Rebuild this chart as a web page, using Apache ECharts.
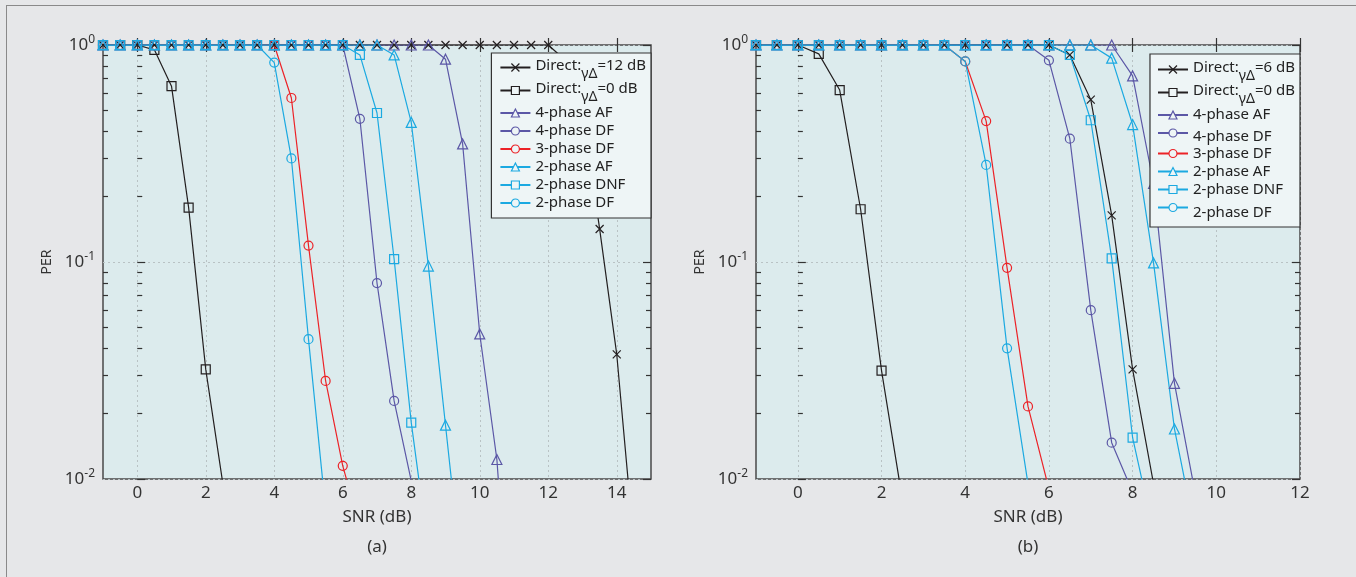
<!DOCTYPE html>
<html><head><meta charset="utf-8">
<script src="https://cdn.jsdelivr.net/npm/echarts@6/dist/echarts.min.js"></script>
<style>
html,body{margin:0;padding:0;background:#e6e7e9;width:1356px;height:577px;overflow:hidden;}
#frame{position:absolute;left:6px;top:5px;width:1360px;height:580px;border-left:1px solid #8a8a8a;border-top:1px solid #8a8a8a;}
#chart{position:absolute;left:0;top:0;width:1356px;height:577px;}
</style></head><body>
<div id="frame"></div>
<div id="chart"></div>
<script>
// ---------- data ----------
const snrA = [-1,-0.5,0,0.5,1,1.5,2,2.5,3,3.5,4,4.5,5,5.5,6,6.5,7,7.5,8,8.5,9,9.5,10,10.5,11,11.5,12,12.5,13,13.5,14,14.5];
const snrB = [-1,-0.5,0,0.5,1,1.5,2,2.5,3,3.5,4,4.5,5,5.5,6,6.5,7,7.5,8,8.5,9,9.5];
const xTicksA = [0,2,4,6,8,10,12,14];
const xTicksB = [0,2,4,6,8,10,12];
const yMinorVals = [0.02,0.03,0.04,0.05,0.06,0.07,0.08,0.09,0.2,0.3,0.4,0.5,0.6,0.7,0.8,0.9];
const yMajorVals = [0.01,0.1,1];

const namesA = ['Direct:γΔ=12 dB','Direct:γΔ=0 dB','4-phase AF','4-phase DF','3-phase DF','2-phase AF','2-phase DNF','2-phase DF'];
const namesB = ['Direct:γΔ=6 dB','Direct:γΔ=0 dB','4-phase AF','4-phase DF','3-phase DF','2-phase AF','2-phase DNF','2-phase DF'];

// (a)
const aDirect12 = [1,1,1,1,1,1,1,1,1,1,1,1,1,1,1,1,1,1,1,1,1,1,1,1,1,1,1,0.85,0.5,0.142,0.0375,0.005];
const aDirect0  = [1,1,1,0.95,0.646,0.178,0.032,0.0095];
const aAF4      = [1,1,1,1,1,1,1,1,1,1,1,1,1,1,1,1,1,1,1,1,0.86,0.35,0.0466,0.0123,0.001];
const aDF4      = [1,1,1,1,1,1,1,1,1,1,1,1,1,1,1,0.457,0.080,0.0229,0.0098];
const aDF3      = [1,1,1,1,1,1,1,1,1,1,1,0.57,0.119,0.0283,0.0115,0.006];
const aAF2      = [1,1,1,1,1,1,1,1,1,1,1,1,1,1,1,1,1,0.90,0.44,0.0958,0.0177,0.0033];
const aDNF2     = [1,1,1,1,1,1,1,1,1,1,1,1,1,1,1,0.90,0.486,0.103,0.0182,0.0047];
const aDF2      = [1,1,1,1,1,1,1,1,1,1,0.83,0.30,0.0441,0.0072];
// (b)
const bDirect6  = [1,1,1,1,1,1,1,1,1,1,1,1,1,1,1,0.90,0.56,0.164,0.032,0.0095];
const bDirect0  = [1,1,1,0.91,0.62,0.175,0.0316,0.008];
const bAF4      = [1,1,1,1,1,1,1,1,1,1,1,1,1,1,1,1,1,1,0.72,0.23,0.0276,0.0085];
const bDF4      = [1,1,1,1,1,1,1,1,1,1,1,1,1,1,0.85,0.37,0.060,0.0147,0.0087];
const bDF3      = [1,1,1,1,1,1,1,1,1,1,0.84,0.446,0.094,0.0216,0.009];
const bAF2      = [1,1,1,1,1,1,1,1,1,1,1,1,1,1,1,1,1,0.87,0.43,0.099,0.017,0.0056];
const bDNF2     = [1,1,1,1,1,1,1,1,1,1,1,1,1,1,1,0.90,0.45,0.104,0.0155,0.0057];
const bDF2      = [1,1,1,1,1,1,1,1,1,1,0.84,0.28,0.040,0.0095];

// ---------- styles ----------
const FONT = 'Noto Sans';
const C_BLACK = '#231f20', C_PURPLE = '#5b57a6', C_RED = '#ec2227', C_CYAN = '#1ba9e1';
const LEG_BG = '#eef5f6';
const XPATH = 'path://M0,0L10,10M10,0L0,10';
const styleList = [
  [C_BLACK, XPATH, 8],
  [C_BLACK, 'rect', 9],
  [C_PURPLE, 'triangle', 10],
  [C_PURPLE, 'circle', 9],
  [C_RED, 'circle', 9],
  [C_CYAN, 'triangle', 10],
  [C_CYAN, 'rect', 9],
  [C_CYAN, 'circle', 9]
];

function mk(name, xs, ys, st, g) {
  return {
    type: 'line', name: name,
    xAxisIndex: g * 2, yAxisIndex: g * 5,
    data: ys.map((v, i) => [xs[i], v]),
    symbol: st[1], symbolSize: st[2], showAllSymbol: true, clip: true,
    lineStyle: { color: st[0], width: 1.2 },
    itemStyle: { color: 'rgba(0,0,0,0)', borderColor: st[0], borderWidth: 1.2 },
    emphasis: { disabled: true }, animation: false
  };
}

const seriesA = [aDirect12, aDirect0, aAF4, aDF4, aDF3, aAF2, aDNF2, aDF2];
const seriesB = [bDirect6, bDirect0, bAF4, bDF4, bDF3, bAF2, bDNF2, bDF2];
const series = [];
seriesA.forEach((d, i) => series.push(mk(namesA[i], snrA, d, styleList[i], 0)));
seriesB.forEach((d, i) => series.push(mk(namesB[i], snrB, d, styleList[i], 1)));

const grids = [
  { left: 103, top: 45, width: 548, height: 434 },
  { left: 756, top: 45, width: 544, height: 434 }
];
const xMax = [15, 12];
const xTicks = [xTicksA, xTicksB];

const xAxis = [], yAxis = [];
for (let g = 0; g < 2; g++) {
  xAxis.push({
    gridIndex: g, type: 'value', min: -1, max: xMax[g], position: 'bottom',
    axisLine: { show: false },
    axisTick: { show: true, inside: true, length: 7, customValues: xTicks[g], lineStyle: { color: '#333', width: 1.2 } },
    axisLabel: { customValues: xTicks[g], fontSize: 17, color: '#333', margin: 6, fontFamily: FONT },
    splitLine: { show: true, lineStyle: { color: '#b9c2c4', type: [2, 3], width: 1 } },
    name: 'SNR (dB)', nameLocation: 'middle', nameGap: 30,
    nameTextStyle: { fontSize: 17, color: '#333', fontFamily: FONT }
  });
  xAxis.push({
    gridIndex: g, type: 'value', min: -1, max: xMax[g], position: 'top',
    axisLine: { show: false },
    axisTick: { show: true, inside: true, length: 7, customValues: xTicks[g], lineStyle: { color: '#333', width: 1.2 } },
    axisLabel: { show: false }, splitLine: { show: false }
  });
  yAxis.push({
    gridIndex: g, type: 'log', logBase: 10, min: 0.01, max: 1, position: 'left',
    axisLine: { show: false },
    axisTick: { show: true, inside: true, length: 8, lineStyle: { color: '#333', width: 1.2 } },
    axisLabel: {
      margin: 8, color: '#333', fontFamily: FONT,
      formatter: v => '{b|10}{s|' + Math.round(Math.log10(v)) + '}',
      rich: {
        b: { fontSize: 17, color: '#333', fontFamily: FONT },
        s: { fontSize: 12, color: '#333', fontFamily: FONT, padding: [0, 0, 11, 0] }
      }
    },
    splitLine: { show: true, lineStyle: { color: '#b9c2c4', type: [2, 3], width: 1 } },
    name: 'PER', nameLocation: 'middle', nameGap: 49,
    nameTextStyle: { fontSize: 14, color: '#333', fontFamily: FONT }
  });
  const minorPos = yMinorVals.map(v => Math.log10(v));
  const majorPos = yMajorVals.map(v => Math.log10(v));
  const tickAxis = (pos, vals, len) => ({
    gridIndex: g, type: 'value', min: -2, max: 0, position: pos,
    axisLine: { show: false },
    axisTick: { show: true, inside: true, length: len, customValues: vals, lineStyle: { color: '#333', width: 1.2 } },
    axisLabel: { show: false }, splitLine: { show: false }
  });
  yAxis.push(tickAxis('left', minorPos, 5));
  yAxis.push(tickAxis('right', minorPos, 5));
  yAxis.push(tickAxis('right', majorPos, 8));
  yAxis.push(tickAxis('left', minorPos, 5));
}

// legend row tweaks: extra spacing above some items (reference spacing is uneven)
const padA = {};
const padB = { '4-phase DF': 'k7', '2-phase DF': 'k8' };
function makeFmt(padMap) {
  return function (name) {
    if (name.indexOf('Direct:') === 0) {
      return '{m|Direct:}{s|γΔ}{m|' + name.slice(9) + '}';
    }
    if (padMap[name]) return '{' + padMap[name] + '|' + name + '}';
    return name;
  };
}
const legendRich = {
  m: { fontSize: 15, padding: [0, 0, 4, 0], color: '#222', fontFamily: FONT },
  s: { fontSize: 14, padding: [13, 0, 0, 0], color: '#222', fontFamily: FONT },
  k7: { fontSize: 15, padding: [11, 0, 3, 0], color: '#222', fontFamily: FONT },
  k8: { fontSize: 15, padding: [13, 0, 3, 0], color: '#222', fontFamily: FONT }
};
function legendData(names) {
  return names.map(n => ({ name: n, itemStyle: { color: LEG_BG } }));
}
const legendBase = {
  orient: 'vertical', align: 'left', itemWidth: 30, itemHeight: 10, itemGap: 0,
  backgroundColor: LEG_BG, borderColor: '#333', borderWidth: 1.2,
  textStyle: { fontSize: 15, lineHeight: 18, color: '#222', fontFamily: FONT, rich: legendRich },
  itemStyle: { color: LEG_BG, borderWidth: 1.2 },
  selectedMode: false, z: 10
};

const option = {
  animation: false,
  textStyle: { fontFamily: FONT },
  grid: grids.map(r => Object.assign({ show: true, backgroundColor: '#dcebed', borderColor: '#4a4a4a', borderWidth: 1.5 }, r)),
  xAxis: xAxis,
  yAxis: yAxis,
  legend: [
    Object.assign({}, legendBase, { data: legendData(namesA), right: 705, top: 53, padding: [5, 5, 6, 8], formatter: makeFmt(padA) }),
    Object.assign({}, legendBase, { data: legendData(namesB), right: 56, top: 54, padding: [6, 5, 7, 7], formatter: makeFmt(padB) })
  ],
  graphic: [
    { type: 'text', x: 377, y: 547, style: { text: '(a)', align: 'center', verticalAlign: 'middle', fontSize: 17, fill: '#333', fontFamily: FONT } },
    { type: 'text', x: 1028, y: 547, style: { text: '(b)', align: 'center', verticalAlign: 'middle', fontSize: 17, fill: '#333', fontFamily: FONT } }
  ],
  series: series
};

const chart = echarts.init(document.getElementById('chart'), null, { renderer: 'canvas' });
chart.setOption(option);
</script>
</body></html>
